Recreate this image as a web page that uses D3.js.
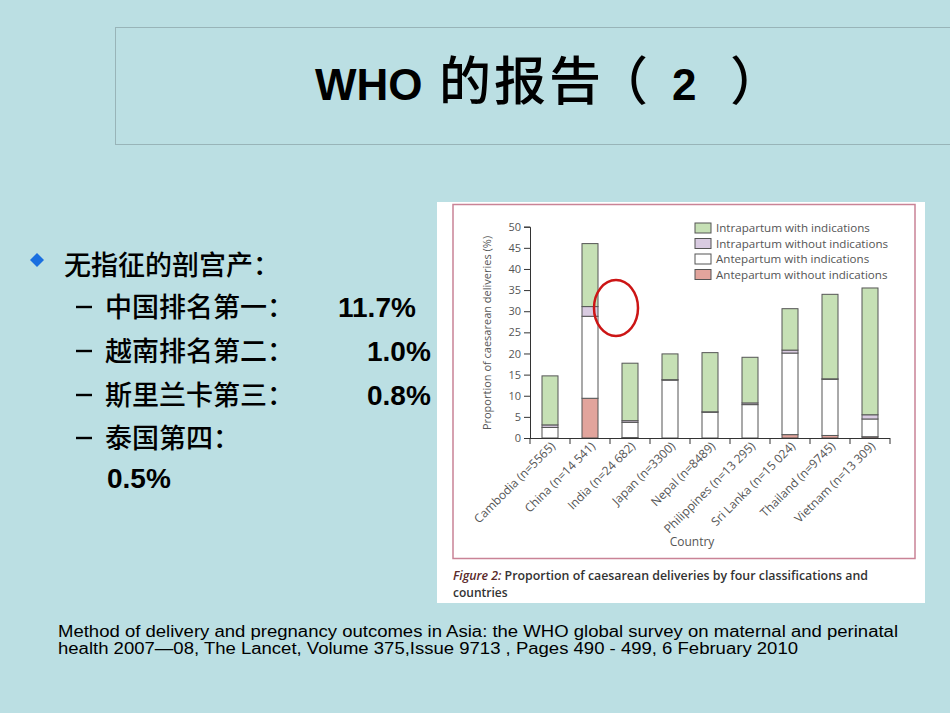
<!DOCTYPE html>
<html>
<head>
<meta charset="utf-8">
<script src="https://cdn.jsdelivr.net/npm/d3@7/dist/d3.min.js"></script>
<style>
  body { margin: 0; background: #bbdfe3; }
  svg { display: block; }
</style>
</head>
<body>
<script>
// Countries and the four caesarean classifications (% of deliveries)
const countries = ['Cambodia (n=5565)', 'China (n=14 541)', 'India (n=24 682)', 'Japan (n=3300)',
  'Nepal (n=8489)', 'Philippines (n=13 295)', 'Sri Lanka (n=15 024)', 'Thailand (n=9745)', 'Vietnam (n=13 309)'];
const antepartumWithout = [0.0, 9.4, 0.1, 0.0, 0.0, 0.0, 0.8, 0.6, 0.3];
const antepartumWith = [2.5, 19.4, 3.6, 13.7, 6.1, 7.9, 19.3, 13.3, 4.2];
const intrapartumWithout = [0.6, 2.3, 0.4, 0.1, 0.1, 0.4, 0.7, 0.1, 1.0];
const intrapartumWith = [11.6, 14.9, 13.6, 6.1, 14.0, 10.8, 9.8, 20.0, 30.0];
const seriesNames = ['Antepartum without indications', 'Antepartum with indications',
  'Intrapartum without indications', 'Intrapartum with indications'];
const seriesColors = ['#e2a49c', '#ffffff', '#d9cbe1', '#c6e0b5'];
const yTicks = [0, 5, 10, 15, 20, 25, 30, 35, 40, 45, 50];

// Slide text
const bulletItems = [
  { label: '中国排名第一：', value: '11.7%' },
  { label: '越南排名第二：', value: '1.0%' },
  { label: '斯里兰卡第三：', value: '0.8%' },
  { label: '泰国第四：', value: '0.5%' }
];

const svg = d3.select('body').append('svg')
  .attr('width', 950).attr('height', 713);

svg.append('rect').attr('width', 950).attr('height', 713).attr('fill', '#bbdfe3');

// Title box
svg.append('rect')
  .attr('x', 115.5).attr('y', 27.5).attr('width', 850).attr('height', 117)
  .attr('fill', 'none').attr('stroke', '#98b4b8').attr('stroke-width', 1);

const cjk = '"Noto Sans CJK SC", "Liberation Sans", sans-serif';
const title = svg.append('text').attr('y', 100).attr('fill', '#000');
title.append('tspan').attr('x', 315)
  .style('font-family', '"Liberation Sans", sans-serif').style('font-size', '44px').style('font-weight', 'bold')
  .text('WHO');
title.append('tspan').attr('x', '439 494 549 596')
  .style('font-family', cjk).style('font-size', '52px').style('font-weight', 500)
  .text('的报告（');
title.append('tspan').attr('x', 672)
  .style('font-family', '"Liberation Sans", sans-serif').style('font-size', '44px').style('font-weight', 'bold')
  .text('2');
title.append('tspan').attr('x', 730)
  .style('font-family', cjk).style('font-size', '52px').style('font-weight', 500)
  .text('）');

// Left bullet list
svg.append('path')
  .attr('d', 'M37,253 L44,260 L37,267 L30,260 Z')
  .attr('fill', '#1a6fe0');
svg.append('text')
  .attr('x', 64).attr('y', 275)
  .style('font-family', cjk).style('font-size', '27px').style('font-weight', 500)
  .text('无指征的剖宫产：');

const rowY = [317, 361, 405, 448];
const valueX = [338, 367, 367, 107];
bulletItems.forEach((d, i) => {
  svg.append('line')
    .attr('x1', 76).attr('x2', 92)
    .attr('y1', rowY[i] - 10).attr('y2', rowY[i] - 10)
    .attr('stroke', '#000').attr('stroke-width', 2.4);
  svg.append('text')
    .attr('x', 105).attr('y', rowY[i])
    .style('font-family', cjk).style('font-size', '27px').style('font-weight', 500)
    .text(d.label);
  svg.append('text')
    .attr('x', valueX[i]).attr('y', i === 3 ? 488 : rowY[i])
    .style('font-family', '"Liberation Sans", sans-serif').style('font-size', '28px').style('font-weight', 'bold')
    .text(d.value);
});

// Figure panel
svg.append('rect').attr('x', 437).attr('y', 202).attr('width', 488).attr('height', 401).attr('fill', '#ffffff');
svg.append('rect').attr('x', 453).attr('y', 204.5).attr('width', 462).attr('height', 354)
  .attr('fill', 'none').attr('stroke', '#c98396').attr('stroke-width', 1.5);

const chartFont = '"Open Sans", sans-serif';
const x = d3.scaleBand().domain(countries).range([530, 890]).paddingInner(0.6).paddingOuter(0.3);
const y = d3.scaleLinear().domain([0, 50]).range([438, 226.7]);

const table = countries.map((c, i) => ({
  country: c,
  [seriesNames[0]]: antepartumWithout[i],
  [seriesNames[1]]: antepartumWith[i],
  [seriesNames[2]]: intrapartumWithout[i],
  [seriesNames[3]]: intrapartumWith[i]
}));
const stacked = d3.stack().keys(seriesNames)(table);

const bars = svg.append('g');
stacked.forEach((layer, li) => {
  bars.selectAll(null).data(layer).enter().append('rect')
    .attr('x', d => x(d.data.country))
    .attr('y', d => y(d[1]))
    .attr('width', x.bandwidth())
    .attr('height', d => y(d[0]) - y(d[1]))
    .attr('fill', seriesColors[li])
    .attr('stroke', '#555')
    .attr('stroke-width', 1);
});

// Y axis
const yAxis = svg.append('g').attr('transform', 'translate(530,0)')
  .call(d3.axisLeft(y).tickValues(yTicks).tickSize(6).tickPadding(3));
yAxis.select('.domain').attr('stroke', '#333');
yAxis.selectAll('.tick line').attr('stroke', '#333');
yAxis.selectAll('text').style('font-family', chartFont).style('font-size', '11px').attr('fill', '#555');

// X axis with ticks on band boundaries
const xAxisG = svg.append('g');
xAxisG.append('line').attr('x1', 524).attr('x2', 890).attr('y1', 438.5).attr('y2', 438.5)
  .attr('stroke', '#333');
const boundaries = countries.map(c => x(c) - x.step() * x.paddingInner() / 2)
  .concat([x(countries[countries.length - 1]) + x.bandwidth() + x.step() * x.paddingInner() / 2]);
xAxisG.selectAll('.bt').data(boundaries).enter().append('line')
  .attr('x1', d => d).attr('x2', d => d)
  .attr('y1', 438).attr('y2', 444)
  .attr('stroke', '#333');
xAxisG.selectAll('.xl').data(countries).enter().append('text')
  .attr('transform', d => `translate(${x(d) + x.bandwidth() / 2 + 6},447) rotate(-45)`)
  .attr('text-anchor', 'end')
  .style('font-family', chartFont).style('font-size', '12px')
  .attr('fill', '#555')
  .text(d => d);

svg.append('text')
  .attr('transform', 'translate(491,333) rotate(-90)')
  .attr('text-anchor', 'middle')
  .style('font-family', chartFont).style('font-size', '11px').attr('fill', '#555')
  .text('Proportion of caesarean deliveries (%)');

svg.append('text')
  .attr('x', 692).attr('y', 546).attr('text-anchor', 'middle')
  .style('font-family', chartFont).style('font-size', '12px').attr('fill', '#555')
  .text('Country');

// Legend
const legend = svg.append('g');
seriesNames.slice().reverse().forEach((name, i) => {
  const li = seriesNames.length - 1 - i;
  legend.append('rect')
    .attr('x', 695).attr('y', 223 + i * 15.5).attr('width', 16).attr('height', 10)
    .attr('fill', seriesColors[li]).attr('stroke', '#555');
  legend.append('text')
    .attr('x', 716).attr('y', 232 + i * 15.5)
    .style('font-family', chartFont).style('font-size', '11.6px').attr('fill', '#555')
    .text(name);
});

// Red circle annotation
svg.append('ellipse')
  .attr('cx', 616).attr('cy', 308).attr('rx', 22).attr('ry', 28)
  .attr('fill', 'none').attr('stroke', '#cc1515').attr('stroke-width', 2.5);

// Caption
const cap = svg.append('text').attr('x', 453).attr('y', 580)
  .attr('textLength', 415).attr('lengthAdjust', 'spacingAndGlyphs')
  .style('font-family', '"Open Sans", sans-serif').style('font-size', '12px').style('font-weight', 600)
  .attr('fill', '#333');
cap.append('tspan').style('font-style', 'italic').attr('fill', '#5a2a2a').text('Figure 2:');
cap.append('tspan').text(' Proportion of caesarean deliveries by four classifications and');
svg.append('text').attr('x', 453).attr('y', 597)
  .style('font-family', '"Open Sans", sans-serif').style('font-size', '12px').style('font-weight', 600)
  .attr('fill', '#333')
  .text('countries');

// Citation
const citeFont = '"Liberation Sans Narrow", "Liberation Sans", sans-serif';
svg.append('text').attr('x', 58).attr('y', 637)
  .attr('textLength', 840).attr('lengthAdjust', 'spacingAndGlyphs')
  .style('font-family', citeFont).style('font-size', '16px')
  .text('Method of delivery and pregnancy outcomes in Asia: the WHO global survey on maternal and perinatal');
svg.append('text').attr('x', 58).attr('y', 654)
  .attr('textLength', 740).attr('lengthAdjust', 'spacingAndGlyphs')
  .style('font-family', citeFont).style('font-size', '16px')
  .text('health 2007—08, The Lancet, Volume 375,Issue 9713 , Pages 490 - 499, 6 February 2010');
</script>
</body>
</html>
